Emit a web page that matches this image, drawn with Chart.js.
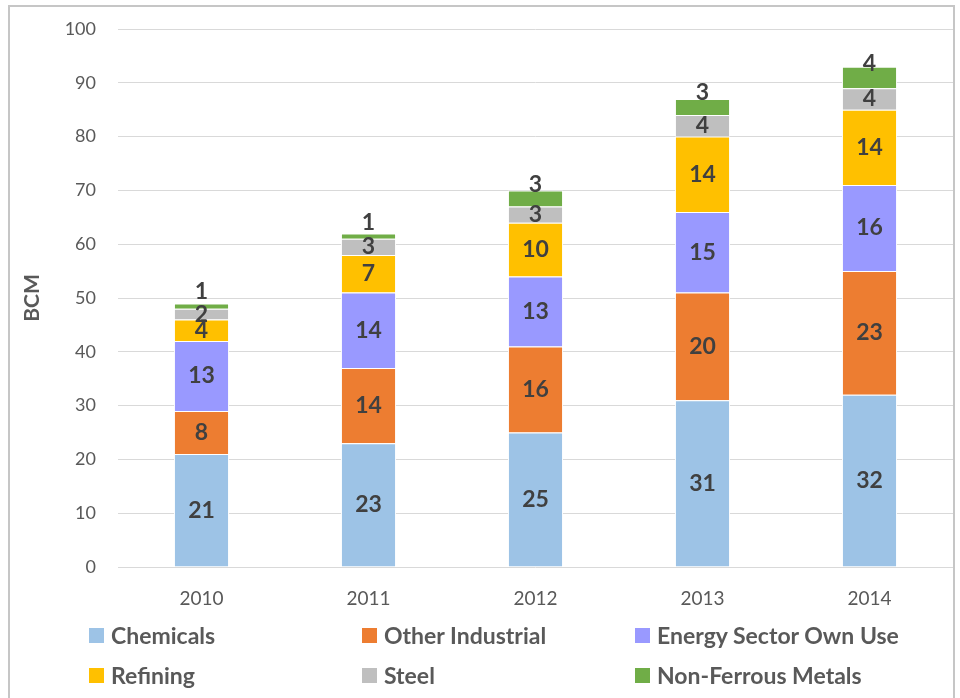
<!DOCTYPE html>
<html>
<head>
<meta charset="utf-8">
<script src="https://cdn.jsdelivr.net/npm/chart.js@4.4.1/dist/chart.umd.min.js"></script>
<style>
  body { margin: 0; background: #fff; }
  #wrap { position: relative; width: 960px; height: 698px; }
  #frame { position: absolute; left: 8px; top: 5px; width: 947px; height: 700px; border: 2px solid #c6c6c6; box-sizing: border-box; pointer-events: none; }
  #legend { position: absolute; left: 89px; top: 623px; display: grid; grid-template-columns: 273px 273px 300px; row-gap: 16px; font-family: Lato, "Open Sans", sans-serif; font-weight: bold; font-size: 23px; color: #595959; }
  #legend span.item { display: flex; align-items: center; height: 24px; }
  #legend i { display: inline-block; width: 15px; height: 15px; margin-right: 7px; }
</style>
</head>
<body>
<div id="wrap">
  <canvas id="chart" width="960" height="698"></canvas>
  <div id="frame"></div>
  <div id="legend"></div>
</div>
<script>
const years = ['2010', '2011', '2012', '2013', '2014'];
const chemicals = [21, 23, 25, 31, 32];
const otherIndustrial = [8, 14, 16, 20, 23];
const energyOwnUse = [13, 14, 13, 15, 16];
const refining = [4, 7, 10, 14, 14];
const steel = [2, 3, 3, 4, 4];
const nonFerrous = [1, 1, 3, 3, 4];
const yTicks = [0, 10, 20, 30, 40, 50, 60, 70, 80, 90, 100];

const series = [
  { label: 'Chemicals', data: chemicals, color: '#9dc3e6' },
  { label: 'Other Industrial', data: otherIndustrial, color: '#ed7d31' },
  { label: 'Energy Sector Own Use', data: energyOwnUse, color: '#9999ff' },
  { label: 'Refining', data: refining, color: '#ffc000' },
  { label: 'Steel', data: steel, color: '#bfbfbf' },
  { label: 'Non-Ferrous Metals', data: nonFerrous, color: '#70ad47' }
];

const FONT = 'Lato, "Open Sans", sans-serif';

// values written in the middle of each segment
const barLabels = {
  id: 'barLabels',
  afterDatasetsDraw(chart) {
    const ctx = chart.ctx;
    ctx.save();
    ctx.font = 'bold 23px ' + FONT;
    ctx.fillStyle = '#404040';
    ctx.textAlign = 'center';
    ctx.textBaseline = 'middle';
    const last = chart.data.datasets.length - 1;
    chart.data.datasets.forEach((ds, i) => {
      chart.getDatasetMeta(i).data.forEach((bar, j) => {
        let y = (bar.y + bar.base) / 2;
        if (i === last) y -= 14;
        ctx.fillText(ds.data[j], bar.x, y);
      });
    });
    ctx.restore();
  }
};

const ctx = document.getElementById('chart').getContext('2d');
new Chart(ctx, {
  type: 'bar',
  data: {
    labels: years,
    datasets: series.map(s => ({
      label: s.label,
      data: s.data,
      backgroundColor: s.color,
      borderColor: '#ffffff',
      borderWidth: 1,
      categoryPercentage: 1,
      barPercentage: 0.33
    }))
  },
  options: {
    responsive: false,
    animation: false,
    layout: { padding: { left: 20, right: 7, top: 29, bottom: 0 } },
    plugins: { legend: { display: false }, tooltip: { enabled: false } },
    scales: {
      x: {
        stacked: true,
        grid: { display: false },
        border: { display: false },
        ticks: { color: '#595959', font: { family: FONT, size: 19 }, padding: 12 },
        afterFit: s => { s.height = 131; }
      },
      y: {
        stacked: true,
        min: 0,
        max: 100,
        afterBuildTicks: s => { s.ticks = yTicks.map(v => ({ value: v })); },
        grid: { color: '#d9d9d9', drawTicks: false },
        border: { display: false },
        ticks: { color: '#595959', font: { family: FONT, size: 18 }, padding: 22 },
        title: { display: true, text: 'BCM', color: '#595959', font: { family: FONT, size: 21, weight: 'bold' }, padding: 0 },
        afterFit: s => { s.width = 98; s.paddingTop = 0; s.paddingBottom = 0; }
      }
    }
  },
  plugins: [barLabels]
});

const legend = document.getElementById('legend');
series.forEach(s => {
  const item = document.createElement('span');
  item.className = 'item';
  item.innerHTML = '<i style="background:' + s.color + '"></i>' + s.label;
  legend.appendChild(item);
});
</script>
</body>
</html>
